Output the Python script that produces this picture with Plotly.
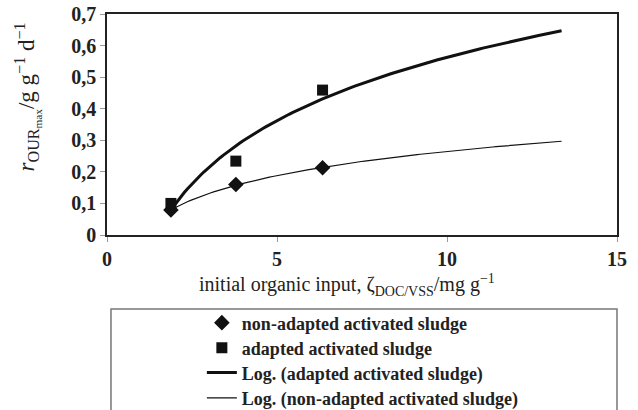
import numpy as np
import plotly.graph_objects as go

# Data
x_input = [1.88, 3.79, 6.34]              # initial organic input, mg/g
non_adapted = [0.079, 0.160, 0.213]       # r_OURmax, g/g/d
adapted = [0.100, 0.234, 0.459]
trend_end = 13.37                         # trendline forecast end

x_ticks = [0, 5, 10, 15]
y_ticks = [0, 0.1, 0.2, 0.3, 0.4, 0.5, 0.6, 0.7]

names = ["non-adapted activated sludge", "adapted activated sludge",
         "Log. (adapted activated sludge)", "Log. (non-adapted activated sludge)"]


def log_trend(xs, ys):
    a, b = np.polyfit(np.log(xs), ys, 1)
    xt = np.linspace(min(xs), trend_end, 120)
    return xt, a * np.log(xt) + b


xa, ya = log_trend(x_input, adapted)
xn, yn = log_trend(x_input, non_adapted)

ink = "#111111"
serif = "Liberation Serif, Times New Roman, serif"

fig = go.Figure()
fig.add_trace(go.Scatter(x=xa, y=ya, mode="lines", name=names[2], legend="legend3",
                         line=dict(color=ink, width=3)))
fig.add_trace(go.Scatter(x=xn, y=yn, mode="lines", name=names[3], legend="legend4",
                         line=dict(color=ink, width=1.2)))
fig.add_trace(go.Scatter(x=x_input, y=non_adapted, mode="markers", name=names[0],
                         legend="legend",
                         marker=dict(symbol="diamond", size=12, color=ink)))
fig.add_trace(go.Scatter(x=x_input, y=adapted, mode="markers", name=names[1],
                         legend="legend2",
                         marker=dict(symbol="square", size=11, color=ink)))

axis_common = dict(showgrid=False, zeroline=False, showline=True, linecolor="#222",
                   linewidth=1.5, mirror=True, ticks="outside", ticklen=5,
                   tickcolor="#999", tickwidth=1,
                   tickfont=dict(family=serif, size=20, color="#222", weight="bold"))
fig.update_xaxes(range=[0, 15], tickvals=x_ticks, **axis_common)
fig.update_yaxes(range=[0, 0.7], tickvals=y_ticks, **axis_common)


def legend_at(y):
    return dict(x=0.186, xanchor="left", y=y, yanchor="middle",
                bgcolor="rgba(0,0,0,0)", borderwidth=0,
                font=dict(family=serif, size=18, color="#222", weight="bold"))


fig.update_layout(
    width=638, height=410,
    margin=dict(l=107, r=21, t=14, b=175, autoexpand=False),
    plot_bgcolor="white", paper_bgcolor="white",
    separators=", ",
    showlegend=True,
    legend=legend_at(-0.398),
    legend2=legend_at(-0.511),
    legend3=legend_at(-0.624),
    legend4=legend_at(-0.738),
    shapes=[dict(type="rect", xref="paper", yref="paper",
                 x0=0.0078, x1=1.0, y0=-0.95, y1=-0.335,
                 line=dict(color="#777", width=1.5), fillcolor="rgba(0,0,0,0)")],
    annotations=[
        dict(text="initial organic input, ζ<sub>DOC/VSS</sub>/mg g<sup>−1</sup>",
             xref="paper", yref="paper", x=0.47, y=-0.225, xanchor="center",
             yanchor="middle", showarrow=False,
             font=dict(family=serif, size=20, color="#222")),
        dict(text="<i>r</i><sub>OUR<sub>max</sub></sub>/g g<sup>−1</sup> d<sup>−1</sup>",
             xref="paper", yref="paper", x=-0.155, y=0.627, xanchor="center",
             yanchor="middle", textangle=-90, showarrow=False,
             font=dict(family=serif, size=23, color="#222")),
    ],
)

fig.write_html("out.html")
